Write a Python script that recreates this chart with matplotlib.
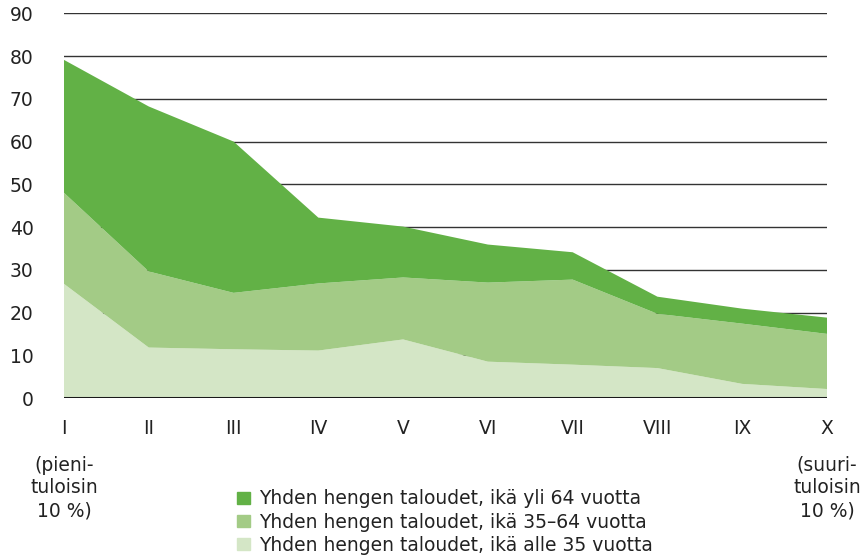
import matplotlib
matplotlib.use('Agg')
import matplotlib.pyplot as plt
from matplotlib.patches import Patch

deciles = ['I', 'II', 'III', 'IV', 'V', 'VI', 'VII', 'VIII', 'IX', 'X']

# stacked components, bottom to top
under_35 = [26.7, 11.8, 11.4, 11.1, 13.7, 8.5, 7.8, 7.0, 3.3, 2.1]
age_35_64 = [21.3, 17.8, 13.2, 15.7, 14.5, 18.5, 19.9, 12.7, 14.1, 12.9]
over_64 = [31.1, 38.6, 35.4, 15.4, 11.9, 8.9, 6.4, 4.0, 3.5, 3.8]

labels = ['Yhden hengen taloudet, ikä alle 35 vuotta',
          'Yhden hengen taloudet, ikä 35–64 vuotta',
          'Yhden hengen taloudet, ikä yli 64 vuotta']
colors = ['#d4e6c6', '#a3cb86', '#62b146']

plt.rcParams['font.family'] = ['DejaVu Sans']
fs = 13.5
txt = '#222222'

fig = plt.figure(figsize=(8.61, 5.6), dpi=100)
ax = fig.add_axes([64 / 861, 1 - 398 / 560, (827 - 64) / 861, (398 - 13.3) / 560])

x = list(range(len(deciles)))
ax.stackplot(x, under_35, age_35_64, over_64, colors=colors, zorder=2, linewidth=0)

ax.set_xlim(0, len(deciles) - 1)
ax.set_ylim(0, 90)
ax.set_yticks(range(0, 91, 10))
ax.set_xticks(x)
ax.set_xticklabels(deciles)

for y in range(10, 91, 10):
    ax.axhline(y, color='#333333', linewidth=1, zorder=1)
ax.axhline(0, color='#1a1a1a', linewidth=2.2, zorder=3)

for s in ax.spines.values():
    s.set_visible(False)
ax.tick_params(axis='both', length=0, labelsize=fs, colors=txt)
ax.tick_params(axis='y', pad=22)
ax.tick_params(axis='x', pad=15)

ax.text(0, -13.5, '(pieni-\ntuloisin\n10 %)', ha='center', va='top',
        fontsize=fs, color=txt, linespacing=1.25, clip_on=False)
ax.text(9, -13.5, '(suuri-\ntuloisin\n10 %)', ha='center', va='top',
        fontsize=fs, color=txt, linespacing=1.25, clip_on=False)

handles = [Patch(color=c) for c in colors[::-1]]
fig.legend(handles, labels[::-1], loc='upper left', bbox_to_anchor=(228 / 861, 1 - 480 / 560),
           frameon=False, fontsize=fs, handlelength=0.65, handleheight=0.65,
           handletextpad=0.5, labelspacing=0.22, borderpad=0, labelcolor=txt)

fig.savefig('out.png', dpi=100)
